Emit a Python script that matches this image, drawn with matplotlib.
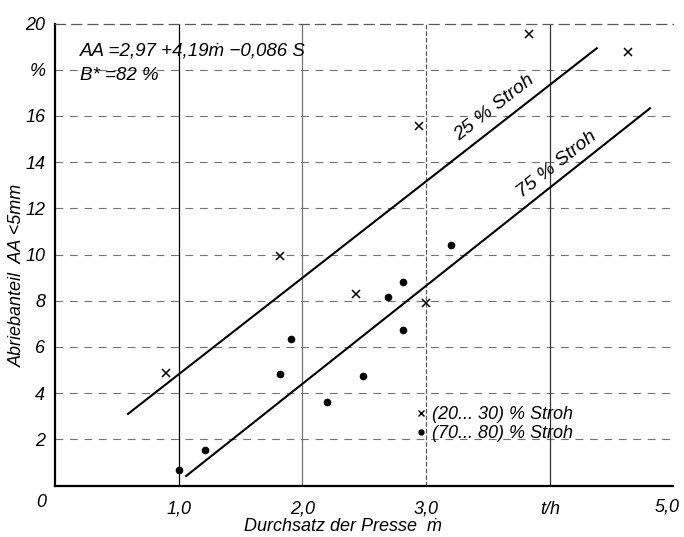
from matplotlib import pyplot as plt
from matplotlib.lines import Line2D
import numpy as np

plt.rcParams['font.family'] = ['Liberation Sans', 'DejaVu Sans']
plt.rcParams['font.style'] = 'italic'

# measured points, (20...30) % straw
x_low = [0.90, 1.82, 2.43, 2.94, 3.00, 3.83, 4.63]
y_low = [4.86, 9.94, 8.29, 15.56, 7.91, 19.53, 18.75]
# measured points, (70...80) % straw
x_high = [1.00, 1.21, 1.82, 1.91, 2.20, 2.49, 2.69, 2.81, 2.81, 3.20]
y_high = [0.67, 1.54, 4.81, 6.36, 3.63, 4.73, 8.17, 8.81, 6.73, 10.40]

# regression lines as drawn (end points)
line25_x = [0.59, 4.38]
line25_y = [3.10, 18.93]
line75_x = [1.06, 4.81]
line75_y = [0.41, 16.33]

xticks = [0, 1, 2, 3, 4, 5]
xlabels = ['', '1,0', '2,0', '3,0', 't/h', '']
yticks = [2, 4, 6, 8, 10, 12, 14, 16, 18, 20]
ylabels = ['2', '4', '6', '8', '10', '12', '14', '16', '%', '20']

fig = plt.figure(figsize=(6.84, 5.37), dpi=100)
ax = fig.add_axes([0.0804, 0.0959, 0.9042, 0.8603])
ax.set_xlim(0, 5)
ax.set_ylim(0, 20)

# grid
for yv in yticks[:-1]:
    ax.axhline(yv, color='0.45', lw=0.8, dashes=(7, 6), zorder=0)
vstyles = [None, '-', '-', '--', '-', None]
vcolors = [None, 'black', '0.45', '0.35', '0.2', None]
for xv, st, c in zip(xticks, vstyles, vcolors):
    if st:
        ax.axvline(xv, color=c, lw=0.9, ls=st, zorder=0)

ax.spines['right'].set_visible(False)
ax.spines['top'].set_linestyle((0, (8, 5)))
ax.spines['top'].set_color('0.35')
ax.spines['top'].set_linewidth(0.9)
ax.spines['left'].set_linewidth(1.6)
ax.spines['bottom'].set_linewidth(1.6)

ax.set_xticks(xticks)
ax.set_xticklabels(xlabels, fontsize=13)
ax.set_yticks(yticks)
ax.set_yticklabels(ylabels, fontsize=13)
ax.tick_params(axis='y', length=0, pad=7)
ax.tick_params(axis='x', length=0, pad=11)
# corner labels
ax.text(-0.11, -0.75, '0', fontsize=13, ha='center', va='center')
ax.text(4.95, -0.93, '5,0', fontsize=13, ha='center', va='center')

ax.plot(line25_x, line25_y, color='black', lw=1.5)
ax.plot(line75_x, line75_y, color='black', lw=1.5)

ax.plot(x_low, y_low, ls='none', marker='x', ms=6, mew=1.1, color='black')
ax.plot(x_high, y_high, ls='none', marker='o', ms=4.5, color='black')

ax.text(3.55, 16.35, '25 % Stroh', fontsize=14, rotation=38, ha='center', va='center',
        rotation_mode='anchor')
ax.text(4.06, 13.9, '75 % Stroh', fontsize=14, rotation=38.5, ha='center', va='center',
        rotation_mode='anchor')

ax.text(0.04, 0.94, 'AA =2,97 +4,19ṁ −0,086 S', transform=ax.transAxes,
        fontsize=13.5, ha='left', va='center')
ax.text(0.04, 0.888, 'B* =82 %', transform=ax.transAxes,
        fontsize=13.5, ha='left', va='center')

handles = [Line2D([], [], ls='none', marker='x', ms=4, mew=1, color='black'),
           Line2D([], [], ls='none', marker='o', ms=3.5, color='black')]
ax.legend(handles, ['(20... 30) % Stroh', '(70... 80) % Stroh'],
          loc='upper left', bbox_to_anchor=(0.583, 0.172), frameon=False,
          fontsize=13, handlelength=0.6, handletextpad=0.3, borderpad=0,
          borderaxespad=0, labelspacing=0.1)

ax.set_xlabel('Durchsatz der Presse  ṁ', fontsize=13)
ax.xaxis.set_label_coords(0.466, -0.07)
ax.set_ylabel('Abriebanteil  AA <5mm', fontsize=13)
ax.yaxis.set_label_coords(-0.047, 0.455)

plt.savefig('out.png', dpi=100)
